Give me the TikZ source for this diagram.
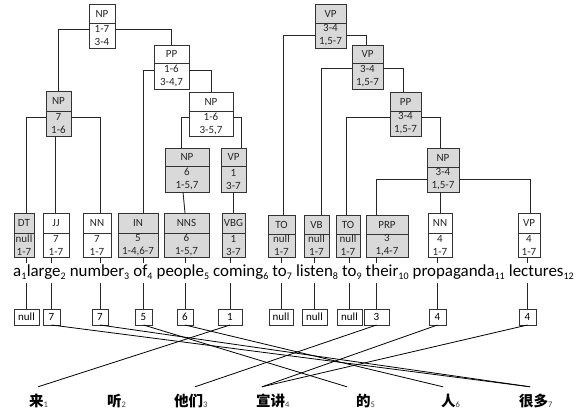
\documentclass[tikz,border=0pt]{standalone}
\usepackage{fontspec}
\setmainfont{Carlito}
\newfontfamily\cjk{Noto Sans CJK SC}
\definecolor{boxgray}{HTML}{D9D9D9}
\definecolor{edge}{HTML}{333333}
\newcommand\sbx[1]{\raisebox{-0.22em}{\fontsize{10}{10}\selectfont #1}}
\newcommand\csb[1]{\raisebox{-0.1em}{\fontsize{8.5}{8.5}\selectfont\color{black!75}#1}}
\tikzset{
 tbox/.style={draw=edge, line width=0.9pt, inner sep=0pt, outer sep=0pt},
 divline/.style={draw=edge, line width=0.9pt},
 lbl/.style={font=\fontsize{11}{13}\selectfont, inner sep=0pt, text=black!85},
 conn/.style={draw=black!85, line width=0.9pt},
 abox/.style={draw=edge, line width=0.8pt, inner sep=0pt, outer sep=0pt, minimum height=16pt, font=\fontsize{11}{12}\selectfont},
 word/.style={inner xsep=0pt, inner ysep=1pt, text height=12pt, text depth=6pt, font=\fontsize{16.9}{18}\selectfont, anchor=base west},
 zh/.style={inner xsep=0pt, inner ysep=4pt, text height=15pt, text depth=3pt, anchor=base west, font=\fontsize{14.5}{16}\selectfont},
 aln/.style={draw=black, line width=0.8pt},
}
\newcommand\tb[9]{%
 \node[tbox,fill=#7,minimum width={#3-#2},minimum height={#6-#4}] (#1) at ({(#2+#3)/2},{(#4+#6)/2}) {};
 \draw[divline] (#1.west |- 0,#5) -- (#1.east |- 0,#5);
 \node[lbl] (#1-h) at ({(#2+#3)/2},{(#4+#5)/2}) {#8};
 \node[lbl,align=center] (#1-v) at ({(#2+#3)/2},{(#5+#6)/2}) {#9};
}
\begin{document}
\begin{tikzpicture}[x=1pt,y=-1pt]
\useasboundingbox (0,0) rectangle (584,412);
% left tree
\tb{NPt}{89}{115}{4}{23}{48}{white}{NP}{1-7\\3-4}
\tb{PPl}{154}{189}{45}{63}{89}{white}{PP}{1-6\\3-4,7}
\tb{NPb}{189}{233}{92}{111}{136}{white}{NP}{1-6\\3-5,7}
\tb{NPa}{46}{71}{91}{111}{136}{boxgray}{NP}{7\\1-6}
\tb{NPc}{165}{209}{148}{166}{192}{boxgray}{NP}{6\\1-5,7}
\tb{VPa}{221}{246}{148}{166}{192}{boxgray}{VP}{1\\3-7}
\tb{DT}{14}{34}{213}{233}{257}{boxgray}{DT}{null\\1-7}
\tb{JJ}{43}{69}{213}{233}{257}{white}{JJ}{7\\1-7}
\tb{NNa}{83}{111}{213}{233}{257}{white}{NN}{7\\1-7}
\tb{IN}{118}{158}{213}{233}{257}{boxgray}{IN}{5\\1-4,6-7}
\tb{NNS}{164}{209}{213}{233}{257}{boxgray}{NNS}{6\\1-5,7}
\tb{VBG}{222}{245}{213}{233}{257}{boxgray}{VBG}{1\\3-7}
\tb{TOa}{268}{295}{215}{234}{257}{boxgray}{TO}{null\\1-7}
% right tree
\tb{VPt}{315}{346}{4}{23}{48}{boxgray}{VP}{3-4\\1,5-7}
\tb{VPb}{352}{383}{45}{63}{89}{boxgray}{VP}{3-4\\1,5-7}
\tb{PPr}{390}{421}{92}{111}{136}{boxgray}{PP}{3-4\\1,5-7}
\tb{NPr}{427}{459}{148}{167}{192}{boxgray}{NP}{3-4\\1,5-7}
\tb{VB}{304}{329}{215}{234}{257}{boxgray}{VB}{null\\1-7}
\tb{TOb}{336}{360}{215}{234}{257}{boxgray}{TO}{null\\1-7}
\tb{PRP}{366}{408}{215}{234}{257}{boxgray}{PRP}{3\\1,4-7}
\tb{NNb}{428}{452}{213}{233}{257}{white}{NN}{4\\1-7}
\tb{VPc}{518}{540}{213}{233}{257}{white}{VP}{4\\1-7}
% alignment boxes
\node[abox,minimum width=25pt] (a1) at (26.5,317) {null};
\node[abox,minimum width=17pt] (a2) at (51.5,317) {7};
\node[abox,minimum width=16pt] (a3) at (100,317) {7};
\node[abox,minimum width=17pt] (a4) at (143.5,317) {5};
\node[abox,minimum width=16pt] (a5) at (185,317) {6};
\node[abox,minimum width=24pt] (a6) at (230,317) {1};
\node[abox,minimum width=24pt] (a7) at (281,317) {null};
\node[abox,minimum width=25pt] (a8) at (314.5,317) {null};
\node[abox,minimum width=25pt] (a9) at (349.5,317) {null};
\node[abox,minimum width=25pt] (a10) at (376.5,317) {3};
\node[abox,minimum width=17pt] (a11) at (437.5,317) {4};
\node[abox,minimum width=17pt] (a12) at (527.5,317) {4};
% English words
\node[word] (w1) at (13,276) {a\sbx{1}};
\node[word] (w2) at (w1.base east) {large\sbx{2}};
\node[word] (w3) at ([xshift=3.7pt]w2.base east) {number\sbx{3}};
\node[word] (w4) at ([xshift=3.7pt]w3.base east) {of\sbx{4}};
\node[word] (w5) at ([xshift=3.7pt]w4.base east) {people\sbx{5}};
\node[word] (w6) at ([xshift=3.7pt]w5.base east) {coming\sbx{6}};
\node[word] (w7) at ([xshift=3.7pt]w6.base east) {to\sbx{7}};
\node[word] (w8) at ([xshift=3.7pt]w7.base east) {listen\sbx{8}};
\node[word] (w9) at ([xshift=3.7pt]w8.base east) {to\sbx{9}};
\node[word] (w10) at ([xshift=3.7pt]w9.base east) {their\sbx{10}};
\node[word] (w11) at ([xshift=3.7pt]w10.base east) {propaganda\sbx{11}};
\node[word] (w12) at ([xshift=3.7pt]w11.base east) {lectures\sbx{12}};
% Chinese words
\node[zh] (c1) at (29,406) {{\cjk\bfseries 来}\csb{1}};
\node[zh] (c2) at (107,406) {{\cjk\bfseries 听}\csb{2}};
\node[zh] (c3) at (174,406) {{\cjk\bfseries 他们}\csb{3}};
\node[zh] (c4) at (256,406) {{\cjk\bfseries 宣讲}\csb{4}};
\node[zh] (c5) at (356,406) {{\cjk\bfseries 的}\csb{5}};
\node[zh] (c6) at (441,406) {{\cjk\bfseries 人}\csb{6}};
\node[zh] (c7) at (519,406) {{\cjk\bfseries 很多}\csb{7}};
% tree connectors
\draw[conn] (NPt.west |- 0,29) -| (NPa.north);
\draw[conn] (NPt.east |- 0,29) -| (PPl.north);
\draw[conn] (PPl.west |- 0,70) -| (IN.north -| a4.north);
\draw[conn] (PPl.east |- 0,70) -| (NPb.north);
\draw[conn] (NPb.west |- 0,117) -| (NPc.north -| 181,0);
\draw[conn] (NPb.east |- 0,117) -| (VPa.north -| 241,0);
\draw[conn] (NPa.west |- 0,117) -| (DT.north -| a1.north);
\draw[conn] (NPa.south -| 55,0) -- (JJ.north -| 55,0);
\draw[conn] (NPa.east |- 0,117) -| (NNa.north -| a3.north);
\draw[conn] (NPc.south -| 183,0) -- (NNS.north -| a5.north);
\draw[conn] (VPa.south) -- (VBG.north);
\draw[conn] (VPt.west |- 0,35) -| (TOa.north -| 283,0);
\draw[conn] (VPt.east |- 0,35) -| (VPb.north -| 366,0);
\draw[conn] (VPb.west |- 0,68) -| (VB.north -| 321,0);
\draw[conn] (VPb.east |- 0,68) -| (PPr.north -| 403,0);
\draw[conn] (PPr.west |- 0,117) -| (TOb.north -| 346,0);
\draw[conn] (PPr.east |- 0,117) -| (NPr.north -| 440,0);
\draw[conn] (NPr.west |- 0,179) -| (PRP.north -| a10.north);
\draw[conn] (NPr.south -| 440,0) -- (NNb.north -| 440,0);
\draw[conn] (NPr.east |- 0,179) -| (VPc.north -| 530,0);
% POS -> word -> alignment
\foreach \p/\w/\a in {DT/w1/a1, JJ/w2/a2, NNa/w3/a3, IN/w4/a4, NNS/w5/a5, VBG/w6/a6, TOa/w7/a7, VB/w8/a8, TOb/w9/a9, PRP/w10/a10, NNb/w11/a11, VPc/w12/a12}{
  \draw[conn] (\a.north |- \p.south) -- (\a.north |- \w.north);
  \draw[conn] (\a.north |- \w.south) -- (\a.north);
}
% alignment links
\draw[aln] (a6.south) -- ([xshift=9pt]c1.north west);
\draw[aln] (a2.south) -- ([xshift=11pt]c7.north west);
\draw[aln] (a3.south) -- ([xshift=11pt]c7.north west);
\draw[aln] (a4.south) -- ([xshift=-9pt]c5.north west);
\draw[aln] (a5.south) -- ([xshift=2pt]c6.north west);
\draw[aln] (a10.south) -- ([xshift=21pt]c3.north west);
\draw[aln] (a11.south) -- ([xshift=6pt]c4.north west);
\draw[aln] (a12.south) -- ([xshift=6pt]c4.north west);
\end{tikzpicture}
\end{document}
